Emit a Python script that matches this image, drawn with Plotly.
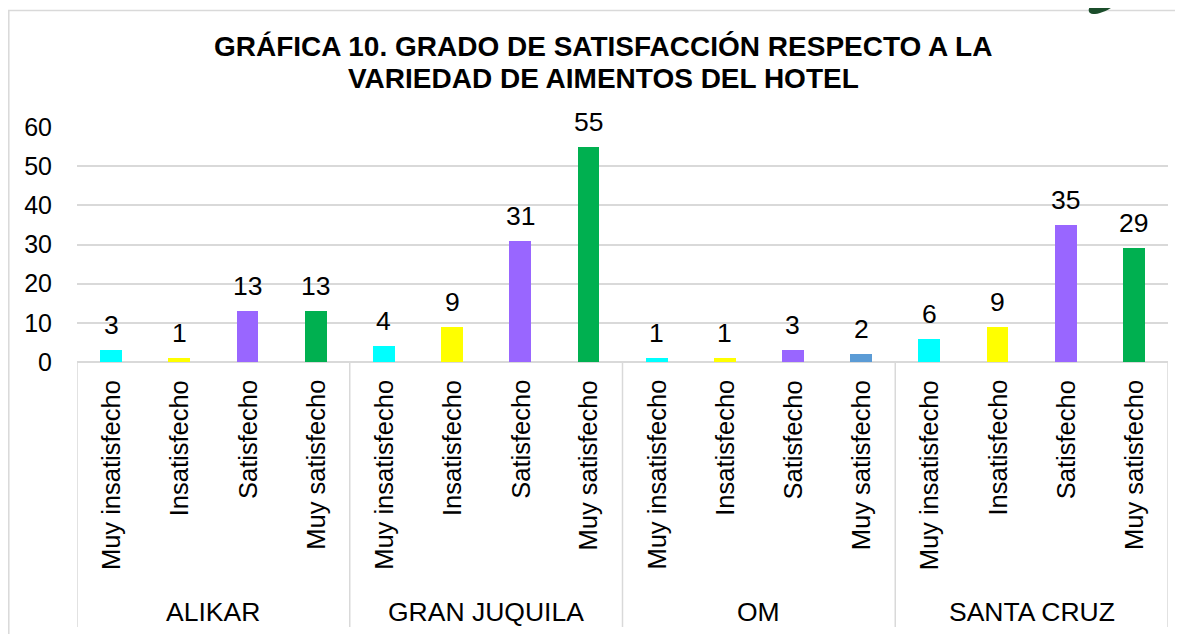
import math
import plotly.graph_objects as go

# ---------------- data ----------------
hotels = ["ALIKAR", "GRAN JUQUILA", "OM", "SANTA CRUZ"]
levels = ["Muy insatisfecho", "Insatisfecho", "Satisfecho", "Muy satisfecho"]
alikar = [3, 1, 13, 13]
gran_juquila = [4, 9, 31, 55]
om = [1, 1, 3, 2]
santa_cruz = [6, 9, 35, 29]
y_ticks = [0, 10, 20, 30, 40, 50, 60]
title_lines = ["GRÁFICA 10. GRADO DE SATISFACCIÓN RESPECTO A LA",
               "VARIEDAD DE AIMENTOS DEL HOTEL"]

# ---------------- styles ----------------
level_colors = ["#00FFFF", "#FFFF00", "#9966FF", "#00B050"]
om_last_color = "#5B9BD5"
FONT = "Liberation Sans, Arial, sans-serif"
GRID = "#D9D9D9"
OFF = 8  # default page body margin
PAGE_W, PAGE_H = 1183, 634
W, H = PAGE_W - OFF, PAGE_H - OFF
# plot area in page pixels: x 77..1168, y 127..362
L, T = 77 - OFF, 127 - OFF
R, B = PAGE_W - 1168, PAGE_H - 362
PW, PH = W - L - R, H - T - B


def px_x(p):
    return (p - OFF - L) / PW


def px_y(p):
    return (T + PH - (p - OFF)) / PH


series = [alikar, gran_juquila, om, santa_cruz]
xs, ys, cols, inner = [], [], [], []
idx = 0
group_bounds = [-0.5]
group_centers = []
for h, vals in zip(hotels, series):
    start = idx
    for j, (lev, v) in enumerate(zip(levels, vals)):
        xs.append(idx)
        ys.append(v)
        c = level_colors[j]
        if h == "OM" and lev == "Muy satisfecho":
            c = om_last_color
        cols.append(c)
        inner.append(lev)
        idx += 1
    group_bounds.append(idx - 0.5)
    group_centers.append((start + idx - 1) / 2)

fig = go.Figure()
fig.add_trace(go.Bar(x=xs, y=ys, marker=dict(color=cols, line=dict(width=0)),
                     width=0.32, hovertext=inner, showlegend=False))

ann = []
# data labels
for x, v in zip(xs, ys):
    ann.append(dict(x=x, y=v, xref="x", yref="y", text=str(v), showarrow=False,
                    yanchor="middle", xanchor="center", yshift=25,
                    font=dict(family=FONT, size=26.5, color="black")))
# rotated level labels
for x, lev in zip(xs, inner):
    ann.append(dict(x=x, y=0, xref="x", yref="paper", text=lev, showarrow=False,
                    textangle=-90, yanchor="top", xanchor="center", yshift=-16,
                    font=dict(family=FONT, size=25.5, color="black")))
# hotel labels
for c, h in zip(group_centers, hotels):
    ann.append(dict(x=c, y=0, xref="x", yref="paper", text=h, showarrow=False,
                    yanchor="middle", xanchor="center", yshift=-250,
                    font=dict(family=FONT, size=26.5, color="black")))
# title
for k, line in enumerate(title_lines):
    ann.append(dict(x=px_x(603), y=px_y(47 + 31 * k), xref="paper", yref="paper",
                    text="<b>" + line + "</b>", showarrow=False,
                    xanchor="center", yanchor="middle",
                    font=dict(family=FONT, size=28, color="black")))

shapes = []
for gb in group_bounds:
    shapes.append(dict(type="line", xref="x", yref="paper", x0=gb, x1=gb,
                       ysizemode="pixel", yanchor=0, y0=0, y1=-265,
                       line=dict(color=GRID, width=1.5)))
# chart border
shapes.append(dict(type="rect", xref="paper", yref="paper",
                   x0=px_x(8.8), x1=px_x(1200), y0=px_y(10.5), y1=px_y(660),
                   line=dict(color=GRID, width=1.5), fillcolor="rgba(0,0,0,0)",
                   layer="below"))
# decorative leaf at top right
cx, cy, a, b, th = 1107, 1, 21, 8, math.radians(-32)
pts = []
for k in range(41):
    t = 2 * math.pi * k / 40
    ex, ey = a * math.cos(t), b * math.sin(t)
    X = cx + ex * math.cos(th) - ey * math.sin(th)
    Y = cy + ex * math.sin(th) + ey * math.cos(th)
    pts.append((px_x(X), px_y(Y)))
path = "M " + " L ".join(f"{p[0]:.5f},{p[1]:.5f}" for p in pts) + " Z"
shapes.append(dict(type="path", xref="paper", yref="paper", path=path,
                   fillcolor="#1B4D2B", line=dict(width=0)))

fig.update_layout(
    width=W, height=H,
    margin=dict(l=L, r=R, t=T, b=B, autoexpand=False),
    paper_bgcolor="white", plot_bgcolor="white",
    annotations=ann, shapes=shapes,
    bargap=0,
    xaxis=dict(range=[-0.5, len(xs) - 0.5], showticklabels=False, showgrid=False,
               zeroline=False, showline=False, ticks=""),
    yaxis=dict(range=[0, 60], tickvals=y_ticks, showgrid=True, gridcolor=GRID,
               gridwidth=1.5, zeroline=True, zerolinecolor=GRID, zerolinewidth=1.5,
               showline=False, ticks="", ticklabelstandoff=24,
               tickfont=dict(family=FONT, size=25, color="black")),
    font=dict(family=FONT, color="black"),
)

fig.write_html("out.html")
